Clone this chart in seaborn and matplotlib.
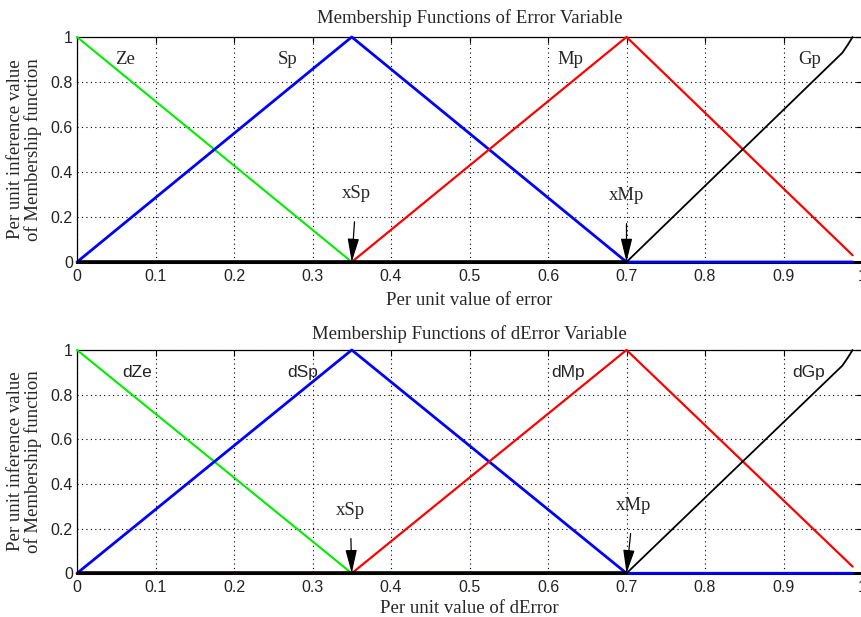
import numpy as np
import pandas as pd
import matplotlib
matplotlib.use("Agg")
import matplotlib.pyplot as plt
import seaborn as sns

# Breakpoints of the triangular membership functions (per unit)
x_ze = [0.0, 0.35, 0.70]
y_ze = [1.0, 0.0, 0.0]
x_sp = [0.0, 0.35, 0.70, 0.988]
y_sp = [0.0, 1.0, 0.0, 0.0]
x_mp = [0.0, 0.35, 0.70, 0.988]
y_mp = [0.0, 0.0, 1.0, 0.03]
x_gp = [0.0, 0.70, 0.975, 0.982, 0.988]
y_gp = [0.0, 0.0, 0.93, 0.966, 1.0]

x_ticks = [0, 0.1, 0.2, 0.3, 0.4, 0.5, 0.6, 0.7, 0.8, 0.9, 1]
x_tick_labels = ["0", "0.1", "0.2", "0.3", "0.4", "0.5", "0.6", "0.7", "0.8", "0.9", "1"]
y_ticks = [0, 0.2, 0.4, 0.6, 0.8, 1]
y_tick_labels = ["0", "0.2", "0.4", "0.6", "0.8", "1"]

titles = ["Membership Functions of Error Variable",
          "Membership Functions of dError Variable"]
x_labels = ["Per unit value of error", "Per unit value of dError"]
y_label = "Per unit inference value\nof Membership function"
set_names = [["Ze", "Sp", "Mp", "Gp"], ["dZe", "dSp", "dMp", "dGp"]]
name_x = [[0.061, 0.268, 0.628, 0.933], [0.076, 0.287, 0.626, 0.932]]
marker_names = ["xSp", "xMp"]
marker_x = [0.35, 0.70]
marker_label_pos = [[(0.356, 0.305), (0.700, 0.297)],
                    [(0.348, 0.283), (0.709, 0.305)]]

sns.set_style("white")
plt.rcParams["font.family"] = ["Liberation Serif", "DejaVu Serif"]

fig = plt.figure(figsize=(8.61, 6.17), dpi=100)
positions = [[77 / 861, 1 - 262 / 617, 785 / 861, 225 / 617],
             [77 / 861, 1 - 573.3 / 617, 785 / 861, 223.3 / 617]]

series = [(x_ze, y_ze, "#00ee00", 1.5),
          (x_sp, y_sp, "#0000ff", 2.0),
          (x_mp, y_mp, "#ff0000", 1.6),
          (x_gp, y_gp, "#000000", 1.3)]

sans = ["Liberation Sans", "DejaVu Sans"]
serif_size = 13.5
title_pad = [10, 8]
xlabel_pad = [6, 3.5]

for i in range(2):
    ax = fig.add_axes(positions[i])
    for xs, ys, col, lw in series:
        df = pd.DataFrame({"x": xs, "y": ys})
        sns.lineplot(data=df, x="x", y="y", color=col, linewidth=lw,
                     sort=False, estimator=None, ax=ax, zorder=3)
    # heavy zero baseline of the Gp set up to 0.7
    ax.plot([0, 0.70], [0, 0], color="black", linewidth=2.6,
            solid_capstyle="butt", zorder=4, clip_on=False)
    for ln in ax.lines:
        ln.set_clip_on(False)

    ax.set_xlim(0, 1)
    ax.set_ylim(0, 1)
    ax.set_xticks(x_ticks)
    ax.set_xticklabels(x_tick_labels, family=sans, fontsize=11.5, color="#222222")
    ax.set_yticks(y_ticks)
    ax.set_yticklabels(y_tick_labels, family=sans, fontsize=11.5, color="#222222")
    ax.tick_params(direction="in", length=4, width=0.8, top=True, right=True,
                   color="black")
    ax.tick_params(axis="x", pad=5)
    ax.tick_params(axis="y", pad=3)
    ax.grid(True, linestyle=(0, (1, 3)), color="black", linewidth=0.8)
    for side, sp in ax.spines.items():
        sp.set_color("black")
        sp.set_linewidth(0.9)
    ax.spines["bottom"].set_linewidth(2.2)

    ax.set_title(titles[i], fontsize=serif_size, pad=title_pad[i])
    ax.set_xlabel(x_labels[i], fontsize=serif_size, labelpad=xlabel_pad[i])
    ax.set_ylabel(y_label, fontsize=serif_size, labelpad=6, linespacing=1.05)

    for name, nx in zip(set_names[i], name_x[i]):
        if i == 0:
            ax.text(nx, 0.9, name, ha="center", va="center", fontsize=serif_size)
        else:
            ax.text(nx, 0.9, name, ha="center", va="center", fontsize=12.5,
                    family=sans, color="#222222")

    for name, mx, (lx, ly) in zip(marker_names, marker_x, marker_label_pos[i]):
        ax.annotate(name, xy=(mx, 0.0), xytext=(lx, ly),
                    ha="center", va="center", fontsize=serif_size,
                    arrowprops=dict(arrowstyle="-|>,head_length=0.9,head_width=0.22",
                                    color="black", lw=0.9,
                                    mutation_scale=16, shrinkA=12, shrinkB=0),
                    zorder=6)

    if ax.get_legend() is not None:
        ax.get_legend().remove()

fig.savefig("out.png", dpi=100)
